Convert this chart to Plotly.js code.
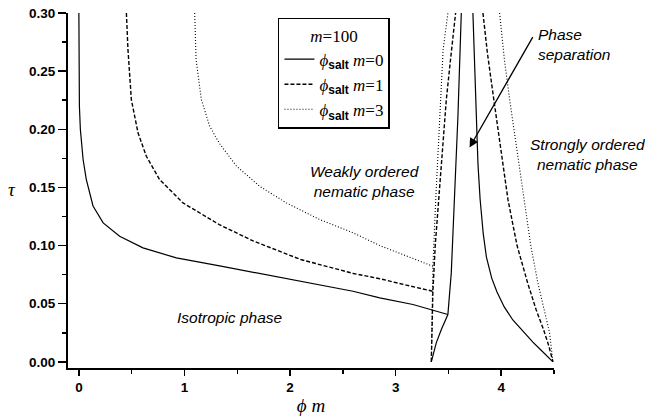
<!DOCTYPE html>
<html>
<head>
<meta charset="utf-8">
<script src="https://cdn.plot.ly/plotly-3.0.1.min.js"></script>
<style>html,body{margin:0;padding:0;background:#fff;}</style>
</head>
<body>
<div id="chart" style="width:645px;height:419px;"></div>
<script>
// ---- data (x = φm, y = τ) ----
// φsalt m = 0
const m0_iso_x   = [0.0, 0.0, 0.005, 0.014, 0.04, 0.07, 0.134, 0.23, 0.386, 0.607, 0.923, 1.333, 1.649, 2.12, 2.596, 2.85, 3.164, 3.495];
const m0_iso_t   = [0.30, 0.245, 0.22, 0.20, 0.174, 0.157, 0.134, 0.1195, 0.108, 0.098, 0.0894, 0.0825, 0.0772, 0.0693, 0.0607, 0.055, 0.0493, 0.0407];
const m0_left_x  = [3.338, 3.385, 3.433, 3.495, 3.527, 3.559, 3.59, 3.622];
const m0_left_t  = [0.0, 0.0163, 0.0278, 0.0407, 0.0765, 0.1395, 0.211, 0.30];
const m0_right_x = [3.732, 3.748, 3.764, 3.78, 3.80, 3.83, 3.86, 3.91, 3.96, 4.03, 4.11, 4.20, 4.30, 4.40, 4.49];
const m0_right_t = [0.30, 0.25, 0.20, 0.17, 0.14, 0.11, 0.09, 0.072, 0.06, 0.047, 0.036, 0.027, 0.017, 0.008, 0.0];
// φsalt m = 1
const m1_iso_x   = [0.45, 0.465, 0.497, 0.56, 0.639, 0.765, 0.986, 1.33, 1.65, 2.1, 2.6, 2.85, 3.1, 3.353];
const m1_iso_t   = [0.30, 0.2685, 0.2255, 0.197, 0.1768, 0.1567, 0.1367, 0.118, 0.104, 0.088, 0.076, 0.0715, 0.066, 0.0607];
const m1_left_x  = [3.338, 3.345, 3.353, 3.375, 3.408, 3.44, 3.48, 3.52, 3.568];
const m1_left_t  = [0.0, 0.03, 0.0607, 0.10, 0.1395, 0.18, 0.2255, 0.26, 0.30];
const m1_right_x = [3.827, 3.87, 3.93, 4.0, 4.064, 4.15, 4.25, 4.33, 4.40, 4.45, 4.49];
const m1_right_t = [0.30, 0.265, 0.2255, 0.18, 0.1395, 0.10, 0.068, 0.045, 0.028, 0.014, 0.0];
// φsalt m = 3
const m3_iso_x   = [1.097, 1.11, 1.16, 1.239, 1.33, 1.491, 1.712, 1.965, 2.28, 2.596, 2.85, 3.1, 3.353];
const m3_iso_t   = [0.30, 0.26, 0.2255, 0.2026, 0.188, 0.1685, 0.151, 0.1367, 0.1224, 0.111, 0.1, 0.091, 0.0822];
const m3_left_x  = [3.338, 3.345, 3.353, 3.38, 3.408, 3.45, 3.495];
const m3_left_t  = [0.0, 0.04, 0.0822, 0.14, 0.197, 0.2685, 0.30];
const m3_right_x = [3.985, 4.03, 4.08, 4.15, 4.213, 4.28, 4.347, 4.41, 4.458, 4.49];
const m3_right_t = [0.30, 0.26, 0.2255, 0.18, 0.1395, 0.10, 0.068, 0.045, 0.025, 0.0];

const salt = '<sub><span style="font-family:Liberation Sans, Arial, sans-serif;font-weight:bold">salt</span></sub>';
const seriesNames = ['<i>ϕ</i>' + salt + ' <i>m</i>=0',
                     '<i>ϕ</i>' + salt + ' <i>m</i>=1',
                     '<i>ϕ</i>' + salt + ' <i>m</i>=3'];
const xTickVals = [0, 1, 2, 3, 4];
const xTickText = ['0', '1', '2', '3', '4'];

function join(...parts) { const out = []; parts.forEach((p, i) => { if (i) out.push(null); out.push(...p); }); return out; }

const dashes = ['solid', '4px,2px', '1px,2px'];
const widths = [1.2, 1.4, 1.1];
const series = [
  [join(m0_iso_x, m0_left_x, m0_right_x), join(m0_iso_t, m0_left_t, m0_right_t)],
  [join(m1_iso_x, m1_left_x, m1_right_x), join(m1_iso_t, m1_left_t, m1_right_t)],
  [join(m3_iso_x, m3_left_x, m3_right_x), join(m3_iso_t, m3_left_t, m3_right_t)]
];
const traces = series.map((s, i) => ({
  x: s[0], y: s[1], type: 'scatter', mode: 'lines', name: seriesNames[i],
  connectgaps: false,
  line: {color: '#000', width: widths[i], dash: dashes[i]}
}));

const serif = 'Liberation Serif, Times New Roman, serif';
const annFont = {family: 'Liberation Sans, Arial, sans-serif', size: 15.5, color: '#000'};
const layout = {
  width: 645, height: 419,
  margin: {l: 68, r: 91, t: 13, b: 51, pad: 0},
  paper_bgcolor: '#fff', plot_bgcolor: '#fff',
  showlegend: true,
  xaxis: {
    range: [-0.103, 4.5], tickvals: xTickVals, ticktext: xTickText,
    showline: true, linecolor: '#000', linewidth: 2, mirror: false,
    showgrid: false, zeroline: false,
    ticks: 'outside', ticklen: 6, tickwidth: 1.5, tickcolor: '#000',
    minor: {dtick: 0.5, tick0: 0, ticks: 'outside', ticklen: 4, tickwidth: 1.5, tickcolor: '#000', showgrid: false},
    tickfont: {family: 'Liberation Sans, Arial, sans-serif', size: 13.5, weight: 'bold', color: '#000'},
    title: {text: '<i>ϕ m</i>', font: {family: serif, size: 19, color: '#000'}, standoff: 4}
  },
  yaxis: {
    range: [-0.0053, 0.30], dtick: 0.05, tick0: 0, tickformat: '.2f',
    showline: true, linecolor: '#000', linewidth: 2, mirror: false,
    showgrid: false, zeroline: false,
    ticks: 'outside', ticklen: 8, tickwidth: 1.5, tickcolor: '#000',
    minor: {dtick: 0.025, tick0: 0, ticks: 'outside', ticklen: 4, tickwidth: 1.5, tickcolor: '#000', showgrid: false},
    tickfont: {family: 'Liberation Sans, Arial, sans-serif', size: 13.5, weight: 'bold', color: '#000'}
  },
  legend: {
    x: 0.432, y: 0.986, xanchor: 'left', yanchor: 'top',
    bordercolor: '#000', borderwidth: 1.5, bgcolor: '#fff',
    traceorder: 'normal', itemwidth: 30,
    font: {family: serif, size: 17, color: '#000'},
    title: {text: '<i>m</i>=100', side: 'top center', font: {family: serif, size: 17, color: '#000'}}
  },
  annotations: [
    {xref: 'paper', yref: 'paper', x: -0.115, y: 0.5025, xanchor: 'center', yanchor: 'middle', text: '<i>τ</i>', showarrow: false,
     font: {family: serif, size: 19, color: '#000'}},
    {xref: 'x', yref: 'y', x: 1.428, y: 0.0381, xanchor: 'center', yanchor: 'middle', text: '<i>Isotropic phase</i>', showarrow: false, font: annFont},
    {xref: 'x', yref: 'y', x: 2.708, y: 0.1553, xanchor: 'center', yanchor: 'middle', text: '<i>Weakly ordered<br>nematic phase</i>', showarrow: false, font: annFont},
    {xref: 'paper', yref: 'paper', x: 1.069, y: 0.601, xanchor: 'center', yanchor: 'middle', text: '<i>Strongly ordered<br>nematic phase</i>', showarrow: false, font: annFont},
    {xref: 'paper', yref: 'paper', x: 0.962, y: 0.911, xanchor: 'left', yanchor: 'middle', align: 'left', text: '<i>Phase<br>separation</i>', showarrow: false, font: annFont},
    {xref: 'x', yref: 'y', axref: 'x', ayref: 'y', x: 3.70, y: 0.1843, ax: 4.307, ay: 0.2806, text: '',
     showarrow: true, arrowhead: 2, arrowsize: 1.4, arrowwidth: 1.3, arrowcolor: '#000', standoff: 0, startstandoff: 0}
  ]
};

Plotly.newPlot('chart', traces, layout, {displayModeBar: false, staticPlot: true});
</script>
</body>
</html>
